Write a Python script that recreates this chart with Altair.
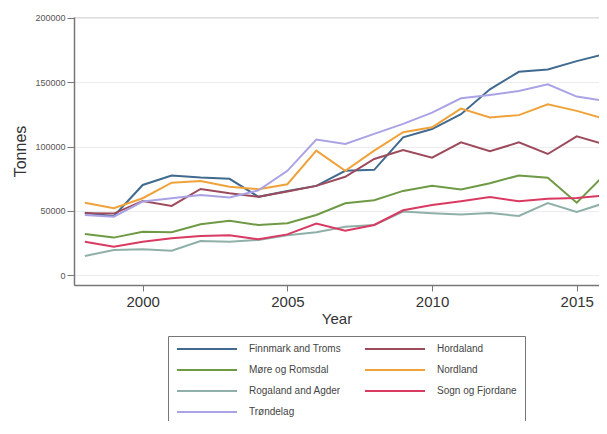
import altair as alt
import pandas as pd

years = list(range(1998, 2017))

regions = ["Finnmark and Troms", "Hordaland", "Møre og Romsdal", "Nordland",
           "Rogaland and Agder", "Sogn og Fjordane", "Trøndelag"]

colors = ["#416a8f", "#9c4a5c", "#6f9a45", "#f0a23a", "#8fb0a8", "#d93a62", "#a9a3e6"]

finnmark = [48700, 46000, 70200, 77500, 76000, 75000, 61000, 65600, 69500, 81200,
            82000, 107300, 113700, 125200, 144600, 158200, 160000, 166500, 172100]
hordaland = [48200, 48000, 57800, 53900, 67100, 63700, 61100, 65100, 69500, 76600,
             90400, 97400, 91400, 103300, 96400, 103300, 94300, 108000, 101500]
more = [32100, 29300, 33900, 33400, 39600, 42400, 39100, 40400, 46900, 56000,
        58300, 65600, 69600, 66700, 71600, 77600, 75800, 56400, 78900]
nordland = [56400, 52100, 59900, 72000, 73300, 68900, 66900, 70800, 96900, 81200,
            96900, 111200, 115000, 129600, 122700, 124500, 133000, 127800, 121400]
rogaland = [15000, 19700, 20200, 19100, 26600, 26100, 27500, 31200, 33500, 37700,
            39100, 49500, 48300, 47200, 48400, 46100, 56200, 49200, 56400]
sogn = [26100, 22200, 26100, 28800, 30600, 31100, 28000, 31800, 40200, 34600,
        39100, 50500, 54700, 57500, 60800, 57500, 59500, 60000, 62100]
trondelag = [46900, 45600, 57300, 59900, 62400, 60400, 66000, 81200, 105500, 102100,
             109900, 117700, 126400, 137600, 140200, 143300, 148400, 138900, 135500]

series = [finnmark, hordaland, more, nordland, rogaland, sogn, trondelag]

x_ticks = [2000, 2005, 2010, 2015]
y_ticks = [0, 50000, 100000, 150000, 200000]

rows = []
for name, vals in zip(regions, series):
    for yr, v in zip(years, vals):
        rows.append({"Year": yr, "Region": name, "Tonnes": v})
df = pd.DataFrame(rows)

FONT = "Liberation Sans"
pad = "\u00a0" * 12

chart = alt.Chart(df).mark_line(strokeWidth=2, clip=True).encode(
    x=alt.X("Year:Q",
            scale=alt.Scale(domain=[1997.625, 2015.77], nice=False, zero=False),
            axis=alt.Axis(values=x_ticks, format="d", grid=False, title="Year",
                          labelFontSize=15, labelColor="#333", labelFont=FONT,
                          tickSize=6, labelPadding=3, tickColor="#777",
                          domainColor="#777", domainWidth=1.5,
                          titleFontSize=15, titleFont=FONT, titleFontWeight="normal",
                          titleColor="#333", titlePadding=2)),
    y=alt.Y("Tonnes:Q",
            scale=alt.Scale(domain=[-7540, 200777], nice=False, zero=False),
            axis=alt.Axis(values=y_ticks, format="d", grid=True, gridColor="#ececec",
                          gridWidth=1, title="Tonnes",
                          labelFontSize=9, labelColor="#555", labelFont=FONT,
                          tickSize=7, labelPadding=2, tickColor="#777",
                          domainColor="#777", domainWidth=1.5,
                          titleFontSize=16, titleFont=FONT, titleFontWeight="normal",
                          titleColor="#333", titlePadding=6)),
    color=alt.Color("Region:N",
                    scale=alt.Scale(domain=regions, range=colors),
                    legend=alt.Legend(
                        title=None, orient="none", legendX=94, legendY=319,
                        direction="horizontal",
                        columns=2, symbolType="stroke", symbolSize=3600,
                        symbolStrokeWidth=2, labelFontSize=10, labelFont=FONT,
                        labelColor="#444", labelOffset=11, strokeColor="#777",
                        padding=8, rowPadding=11, columnPadding=23, clipHeight=10,
                        labelLimit=300,
                        labelExpr="datum.label == 'Sogn og Fjordane' ? datum.label + '" + pad + "' : datum.label")),
).properties(
    width=525, height=268,
    padding={"left": 66, "top": 9, "right": 0, "bottom": 136},
    autosize=alt.AutoSizeParams(type="none"),
).configure_view(strokeWidth=0).configure(background="white")

chart.save("out.html", embed_options={"renderer": "svg", "actions": False})
